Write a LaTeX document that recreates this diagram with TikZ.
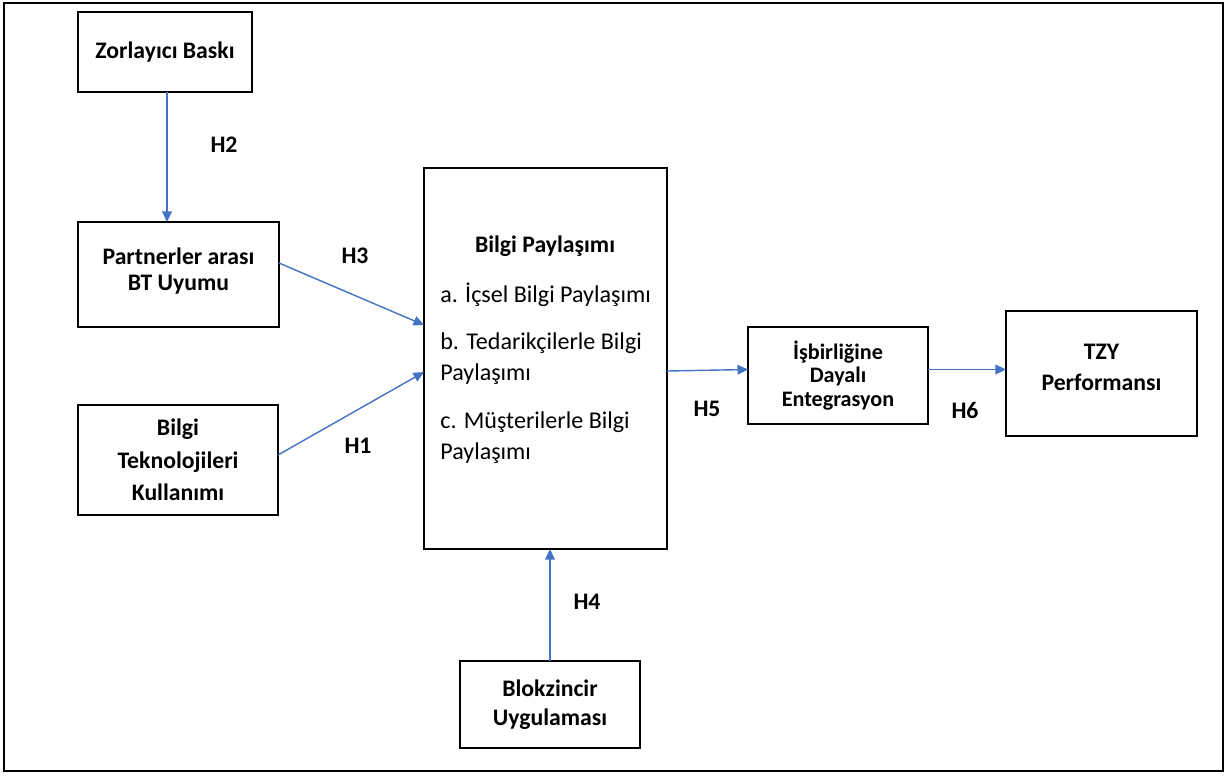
\documentclass[tikz,border=0pt]{standalone}
\usepackage{fontspec}
\setmainfont{Carlito}
\usetikzlibrary{arrows.meta}
\definecolor{linkblue}{HTML}{4472C4}
\begin{document}
\begin{tikzpicture}[x=0.02cm,y=-0.02cm,
  box/.style={draw=black,line width=0.85pt,inner sep=0pt,outer sep=0pt,
    align=center,font=\bfseries\fontsize{13.5}{18.5}\selectfont},
  boxtext/.style={align=center,inner sep=0pt},
  item/.style={anchor=base west,inner sep=0pt,
    font=\fontsize{13.7}{17.6}\selectfont},
  hlabel/.style={inner sep=0pt,font=\bfseries\fontsize{13.5}{16}\selectfont},
  link/.style={draw=linkblue,line width=0.8pt,-{Triangle[length=6pt,width=5.5pt]}}]
\useasboundingbox (0,0) rectangle (1229,775);
\draw[line width=1.2pt] (4,3) rectangle (1223,771);

% boxes
\node[box,minimum width=3.48cm,minimum height=1.6cm] (zor) at (165,52) {Zorlayıcı Baskı};
\node[box,minimum width=4.02cm,minimum height=2.1cm] (part) at (178.5,274.5) {};
\node[boxtext,font=\bfseries\fontsize{13.5}{14.5}\selectfont] (parttext) at (178.5,271) {Partnerler arası\\BT Uyumu};
\node[box,minimum width=4.0cm,minimum height=2.2cm] (btk) at (178,460) {Bilgi\\Teknolojileri\\Kullanımı};
\node[box,minimum width=4.86cm,minimum height=7.62cm] (bilgi) at (545.5,358.5) {};
\node[box,minimum width=3.6cm,minimum height=1.94cm,
  font=\bfseries\fontsize{12.6}{13.5}\selectfont] (isb) at (838,375.5) {İşbirliğine\\Dayalı\\Entegrasyon};
\node[box,minimum width=3.82cm,minimum height=2.5cm] (tzy) at (1101.5,373.5) {};
\node[boxtext,font=\bfseries\fontsize{13.5}{17.6}\selectfont] (tzytext) at (1101.5,367) {TZY\\Performansı};
\node[box,minimum width=3.6cm,minimum height=1.74cm,
  font=\bfseries\fontsize{13.5}{16.5}\selectfont] (blok) at (550,704.5) {Blokzincir\\Uygulaması};

% contents of the knowledge-sharing box
\node[inner sep=0pt,font=\bfseries\fontsize{13.5}{16}\selectfont] (bptitle) at (545,246) {Bilgi Paylaşımı};
\node[item] (bpa) at (440,302) {a. İçsel Bilgi Paylaşımı};
\node[item] (bpb1) at (440,349) {b. Tedarikçilerle Bilgi};
\node[item] (bpb2) at (440,380) {Paylaşımı};
\node[item] (bpc1) at (440,428) {c. Müşterilerle Bilgi};
\node[item] (bpc2) at (440,459) {Paylaşımı};

% hypothesis paths
\draw[link] ([xshift=0.04cm]zor.south) -- ([xshift=0.04cm]zor.south |- part.north);
\draw[link] ([yshift=0.23cm]part.east) -- ([yshift=0.67cm]bilgi.west);
\draw[link] ([yshift=0.1cm]btk.east) -- ([yshift=-0.27cm]bilgi.west);
\draw[link] (blok.north) -- (blok.north |- bilgi.south);
\draw[link] ([yshift=-0.25cm]bilgi.east) -- ([yshift=0.12cm]isb.west);
\draw[link] ([yshift=0.12cm]isb.east) -- ([yshift=0.12cm]isb.east -| tzy.west);

% path labels
\node[hlabel] (h2) at (224,145) {H2};
\node[hlabel] (h3) at (355,256) {H3};
\node[hlabel] (h1) at (358,446) {H1};
\node[hlabel] (h4) at (587,602) {H4};
\node[hlabel] (h5) at (707,409) {H5};
\node[hlabel] (h6) at (965,410) {H6};
\end{tikzpicture}
\end{document}
